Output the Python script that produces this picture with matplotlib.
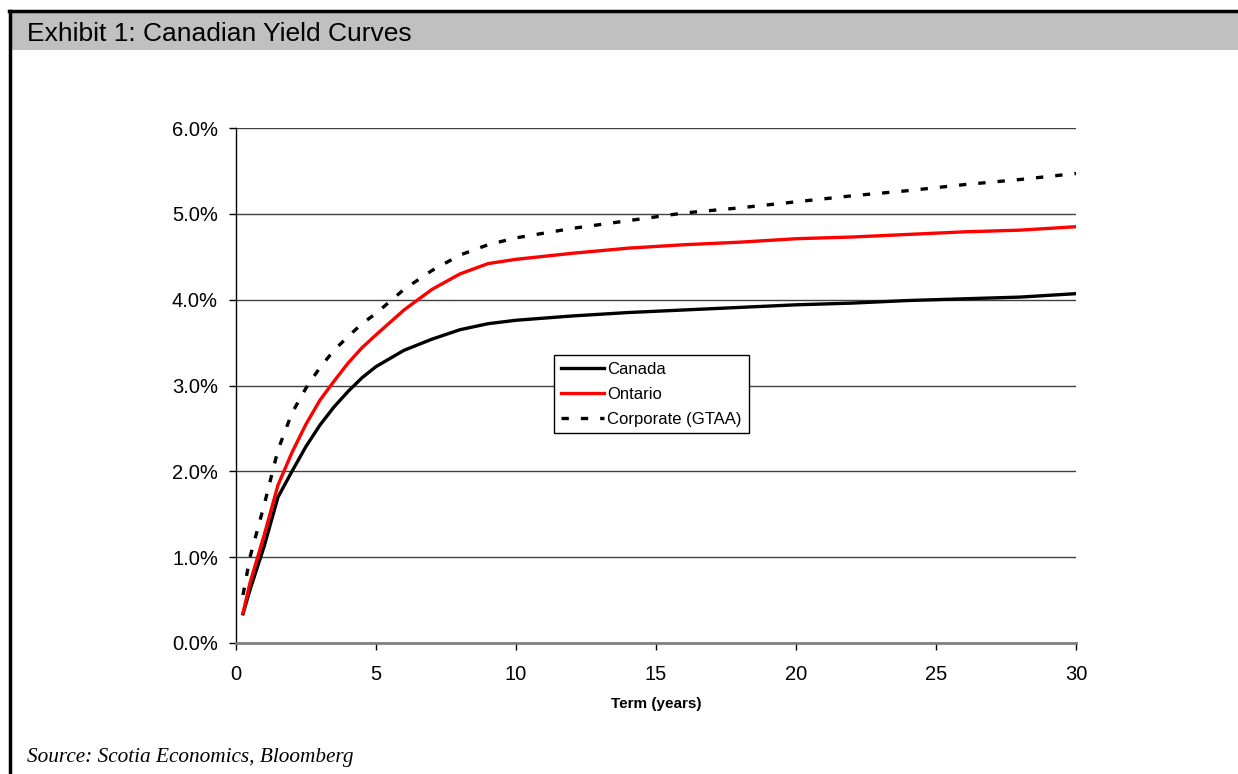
import matplotlib.pyplot as plt
from matplotlib.ticker import FuncFormatter, MultipleLocator
from matplotlib.patches import Rectangle
from matplotlib.lines import Line2D

# Term (years) and yields (%)
term = [0.25, 0.5, 1, 1.5, 2, 2.5, 3, 3.5, 4, 4.5, 5, 6, 7, 8, 9, 10,
        12, 14, 16, 18, 20, 22, 24, 26, 28, 30]
canada = [0.34, 0.62, 1.12, 1.70, 2.00, 2.29, 2.54, 2.75, 2.93, 3.09, 3.22,
          3.41, 3.54, 3.65, 3.72, 3.76, 3.81, 3.85, 3.88, 3.91, 3.94, 3.96,
          3.99, 4.01, 4.03, 4.07]
ontario = [0.35, 0.70, 1.25, 1.84, 2.22, 2.55, 2.83, 3.05, 3.26, 3.44, 3.59,
           3.88, 4.12, 4.30, 4.42, 4.47, 4.54, 4.60, 4.64, 4.67, 4.71, 4.73,
           4.76, 4.79, 4.81, 4.85]
corporate = [0.56, 1.00, 1.60, 2.25, 2.68, 2.97, 3.21, 3.41, 3.57, 3.72, 3.84,
             4.12, 4.34, 4.52, 4.64, 4.72, 4.83, 4.92, 5.01, 5.07, 5.14, 5.21,
             5.27, 5.34, 5.40, 5.47]

plt.rcParams['font.family'] = ['Liberation Sans', 'DejaVu Sans']

fig = plt.figure(figsize=(12.38, 7.74), dpi=100)
W, H = 1238, 774

# frame and title band
fig.patches.append(Rectangle((11 / W, 1 - 50 / H), 1 - 11 / W, 37 / H,
                             transform=fig.transFigure, facecolor='#c0c0c0',
                             edgecolor='none'))
fig.lines.append(Line2D([9 / W, 1], [1 - 10.5 / H, 1 - 10.5 / H],
                        transform=fig.transFigure, color='black', lw=2.5))
fig.lines.append(Line2D([9.5 / W, 9.5 / W], [0, 1 - 10.5 / H],
                        transform=fig.transFigure, color='black', lw=2.5))
fig.text(27 / W, 1 - 34 / H, 'Exhibit 1: Canadian Yield Curves',
         family=['Liberation Sans Narrow', 'Liberation Sans'], fontsize=19,
         va='center', ha='left')
fig.text(27 / W, 1 - 762 / H, 'Source: Scotia Economics, Bloomberg',
         family=['Liberation Serif'], style='italic', fontsize=15.3,
         va='baseline', ha='left')

ax = fig.add_axes([236 / W, 1 - 643 / H, 840 / W, 515 / H])
ax.plot(term, canada, color='black', lw=2.4, label='Canada')
ax.plot(term, ontario, color='#ff0000', lw=2.4, label='Ontario')
ax.plot(term, corporate, color='black', lw=2.4, linestyle=(0, (2.2, 3.6)),
        label='Corporate (GTAA)')

ax.set_xlim(0, 30)
ax.set_ylim(0, 6)
ax.xaxis.set_major_locator(MultipleLocator(5))
ax.yaxis.set_major_locator(MultipleLocator(1))
ax.yaxis.set_major_formatter(FuncFormatter(lambda v, p: f'{v:.1f}%'))
ax.grid(axis='y', color='#404040', lw=1)
ax.set_axisbelow(True)

for s in ['top', 'right']:
    ax.spines[s].set_visible(False)
ax.spines['left'].set_color('black')
ax.spines['left'].set_linewidth(1)
ax.spines['bottom'].set_color('#808080')
ax.spines['bottom'].set_linewidth(2)
ax.tick_params(axis='both', labelsize=14.5, direction='out', length=5,
               width=1, color='black')
ax.tick_params(axis='y', pad=8)
ax.tick_params(axis='x', pad=11)

ax.set_xlabel('Term (years)', fontsize=11, fontweight='bold', labelpad=9)

leg = ax.legend(loc='upper left', bbox_to_anchor=((554 - 236) / 840, (643 - 355) / 515),
                fontsize=12, frameon=True, fancybox=False, handlelength=2.6,
                handletextpad=0.2, borderpad=0.4, labelspacing=0.6,
                borderaxespad=0)
leg.get_frame().set_edgecolor('black')
leg.get_frame().set_linewidth(1)
leg.get_frame().set_alpha(1)

fig.savefig('out.png', dpi=100)
